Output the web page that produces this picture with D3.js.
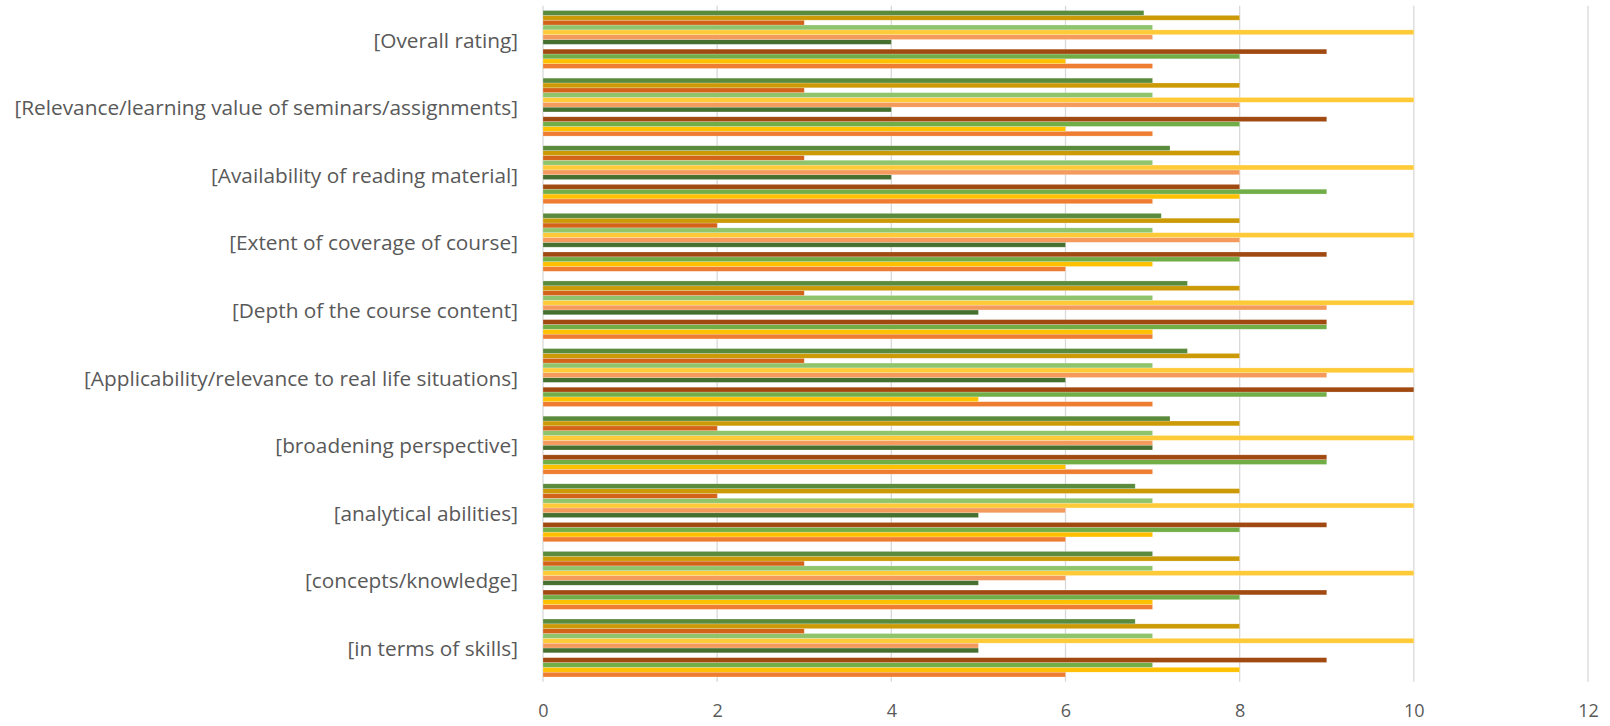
<!DOCTYPE html>
<html>
<head>
<meta charset="utf-8">
<script src="https://cdn.jsdelivr.net/npm/d3@7"></script>
<style>
  html, body { margin: 0; padding: 0; background: #fff; }
  svg { display: block; }
</style>
</head>
<body>
<svg id="chart" width="1610" height="726"></svg>
<script>
// Categories, top to bottom as displayed
const categories = [
  "[Overall rating]",
  "[Relevance/learning value of seminars/assignments]",
  "[Availability of reading material]",
  "[Extent of coverage of course]",
  "[Depth of the course content]",
  "[Applicability/relevance to real life situations]",
  "[broadening perspective]",
  "[analytical abilities]",
  "[concepts/knowledge]",
  "[in terms of skills]"
];

// Series 1..12 (series 1 drawn at the bottom of each group), values per category (same order as categories)
const seriesNames = ["S1","S2","S3","S4","S5","S6","S7","S8","S9","S10","S11","S12"];
const s1  = [7, 7, 7, 6, 7, 7, 7, 6, 7, 6];
const s2  = [6, 6, 8, 7, 7, 5, 6, 7, 7, 8];
const s3  = [8, 8, 9, 8, 9, 9, 9, 8, 8, 7];
const s4  = [9, 9, 8, 9, 9, 10, 9, 9, 9, 9];
const s5  = [0, 0, 0, 0, 0, 0, 0, 0, 0, 0];
const s6  = [4, 4, 4, 6, 5, 6, 7, 5, 5, 5];
const s7  = [7, 8, 8, 8, 9, 9, 7, 6, 6, 5];
const s8  = [10, 10, 10, 10, 10, 10, 10, 10, 10, 10];
const s9  = [7, 7, 7, 7, 7, 7, 7, 7, 7, 7];
const s10 = [3, 3, 3, 2, 3, 3, 2, 2, 3, 3];
const s11 = [8, 8, 8, 8, 8, 8, 8, 8, 8, 8];
const s12 = [6.9, 7, 7.2, 7.1, 7.4, 7.4, 7.2, 6.8, 7, 6.8];
const seriesValues = [s1, s2, s3, s4, s5, s6, s7, s8, s9, s10, s11, s12];
const seriesColors = ["#EE7D31","#FFC000","#72AE48","#A04A12","#997300","#46702F",
                      "#F39A5C","#FFCA38","#8FC46C","#D4631A","#CC9A06","#5A8A3B"];

const xTicks = [0, 2, 4, 6, 8, 10, 12];

const svg = d3.select("#chart");
const plot = { left: 543, right: 1588, top: 5.7, bottom: 681.8 };

const x = d3.scaleLinear().domain([0, 12]).range([plot.left, plot.right]);
const y = d3.scaleBand().domain(categories).range([plot.top, plot.bottom]).padding(0);

const nS = seriesValues.length;
const barW = y.bandwidth() / (nS + 2);
const inner = d3.scaleBand()
  .domain(d3.range(nS).map(i => nS - 1 - i)) // top slot is last series
  .range([barW, barW * (nS + 1)]);

// gridlines
svg.append("g")
  .selectAll("line")
  .data(xTicks)
  .join("line")
  .attr("x1", d => x(d)).attr("x2", d => x(d))
  .attr("y1", plot.top).attr("y2", plot.bottom)
  .attr("stroke", "#D9D9D9").attr("stroke-width", 1.3);

// bars
const data = [];
seriesValues.forEach((vals, si) => {
  vals.forEach((v, ci) => {
    data.push({ series: si, cat: categories[ci], value: v });
  });
});

svg.append("g")
  .selectAll("rect")
  .data(data.filter(d => d.value > 0))
  .join("rect")
  .attr("x", x(0))
  .attr("y", d => y(d.cat) + inner(d.series))
  .attr("width", d => x(d.value) - x(0))
  .attr("height", inner.bandwidth())
  .attr("fill", d => seriesColors[d.series])
  .attr("stroke", "rgba(255,255,255,0.35)")
  .attr("stroke-width", 0.6);

// category labels
svg.append("g")
  .selectAll("text")
  .data(categories)
  .join("text")
  .attr("x", 518)
  .attr("y", d => y(d) + y.bandwidth() / 2)
  .attr("text-anchor", "end")
  .attr("dominant-baseline", "central")
  .attr("font-family", "'Open Sans', sans-serif")
  .attr("font-size", 20.8)
  .attr("fill", "#595959")
  .text(d => d);

// x axis tick labels
const xAxis = d3.axisBottom(x).tickValues(xTicks).tickSize(0).tickPadding(0);
const gx = svg.append("g").attr("transform", `translate(0, 703)`).call(xAxis);
gx.select(".domain").remove();
gx.selectAll("text")
  .attr("font-family", "'Open Sans', sans-serif")
  .attr("font-size", 18)
  .attr("fill", "#595959")
  .attr("dy", "0.35em")
  .attr("y", 8);
</script>
</body>
</html>
